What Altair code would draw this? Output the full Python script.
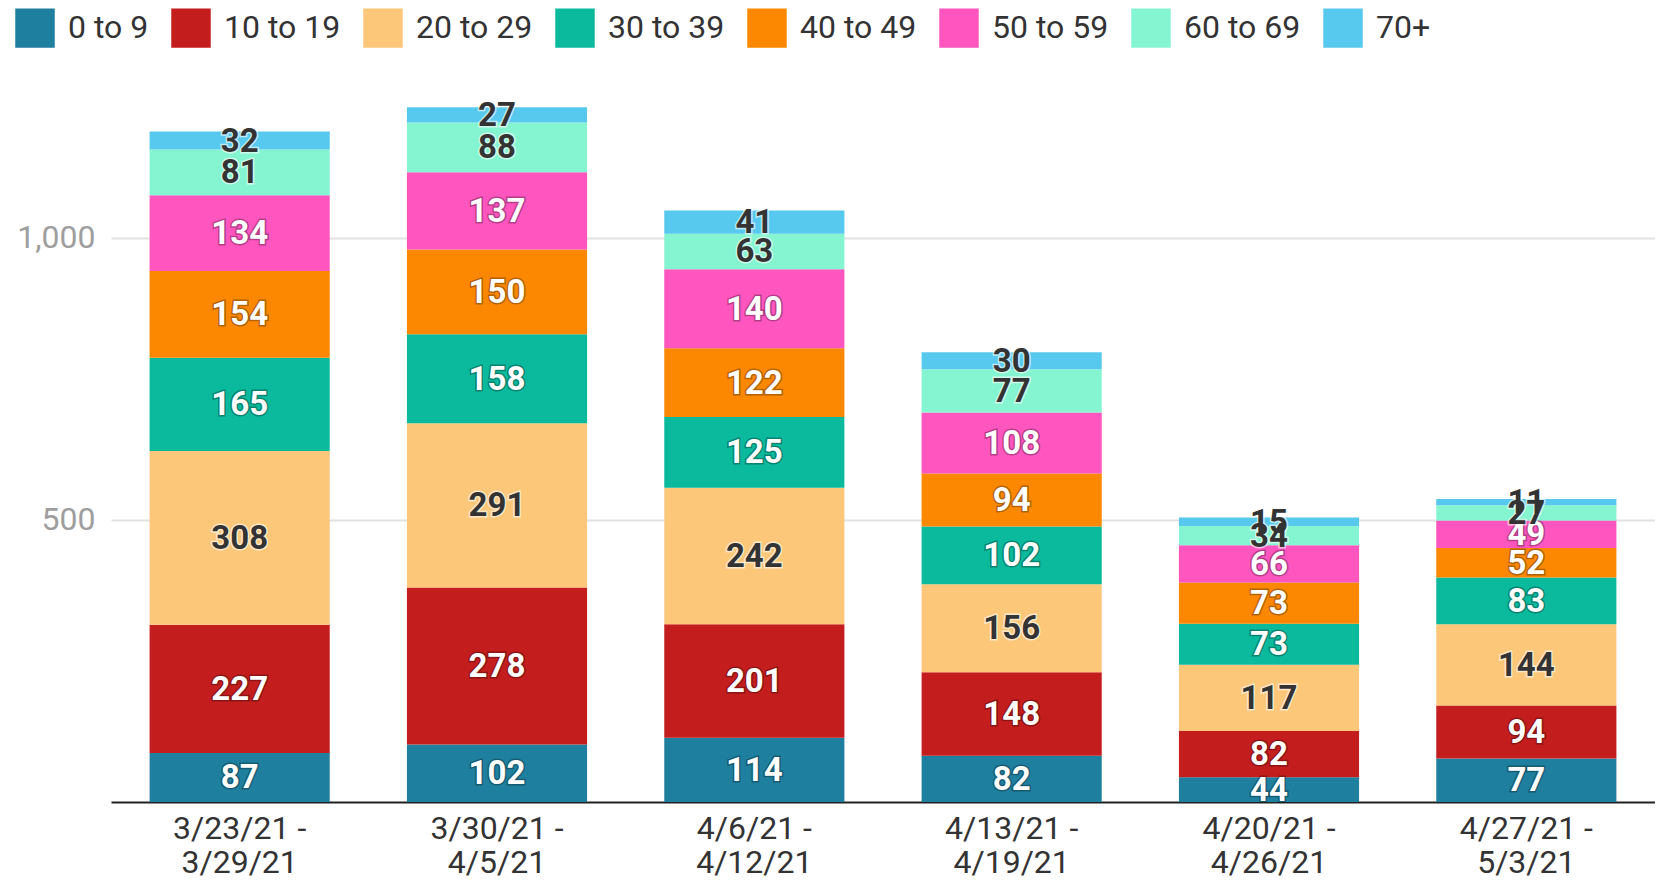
import altair as alt
import pandas as pd

weeks = ["3/23/21 - 3/29/21", "3/30/21 - 4/5/21", "4/6/21 - 4/12/21",
         "4/13/21 - 4/19/21", "4/20/21 - 4/26/21", "4/27/21 - 5/3/21"]
groups = ["0 to 9", "10 to 19", "20 to 29", "30 to 39", "40 to 49",
          "50 to 59", "60 to 69", "70+"]
colors = ["#1e7f9f", "#c41d1d", "#fdc77a", "#0bb99c", "#fb8800",
          "#ff55bf", "#84f5d0", "#58c9ee"]
light_groups = ["20 to 29", "60 to 69", "70+"]

age_0_9 = [87, 102, 114, 82, 44, 77]
age_10_19 = [227, 278, 201, 148, 82, 94]
age_20_29 = [308, 291, 242, 156, 117, 144]
age_30_39 = [165, 158, 125, 102, 73, 83]
age_40_49 = [154, 150, 122, 94, 73, 52]
age_50_59 = [134, 137, 140, 108, 66, 49]
age_60_69 = [81, 88, 63, 77, 34, 27]
age_70p = [32, 27, 41, 30, 15, 11]
series = [age_0_9, age_10_19, age_20_29, age_30_39, age_40_49,
          age_50_59, age_60_69, age_70p]

rows = []
for gi, (g, vals) in enumerate(zip(groups, series)):
    for w, v in zip(weeks, vals):
        rows.append({"week": w, "group": g, "order": gi, "value": v,
                     "light": g in light_groups})
df = pd.DataFrame(rows)

FONT = "Roboto"

base = alt.Chart(df).transform_stack(
    stack="value", as_=["y0", "y1"], groupby=["week"],
    sort=[alt.SortField("order", order="ascending")]
).transform_calculate(mid="(datum.y0 + datum.y1) / 2")

x_enc = alt.X(
    "week:N", sort=weeks, title=None,
    scale=alt.Scale(paddingInner=0.3, paddingOuter=0.15),
    axis=alt.Axis(
        labelExpr="[split(datum.label, ' - ')[0] + ' -', split(datum.label, ' - ')[1]]",
        labelFontSize=32, labelFont=FONT, labelColor="#333333",
        labelPadding=11, labelLineHeight=34, labelAngle=0,
        domainColor="#222222", domainWidth=2, ticks=False, grid=False,
    ),
)
y_scale = alt.Scale(domain=[0, 1290], nice=False)

bars = base.mark_bar().encode(
    x=x_enc,
    y=alt.Y("y0:Q", scale=y_scale, title=None,
            axis=alt.Axis(values=[500, 1000], format=",d", labelFontSize=32,
                          labelFont=FONT, labelColor="#9e9e9e",
                          labelPadding=16, domain=False, ticks=False,
                          gridColor="#e2e2e2", gridWidth=2)),
    y2="y1:Q",
    color=alt.Color("group:N", sort=groups,
                    scale=alt.Scale(domain=groups, range=colors),
                    legend=alt.Legend(
                        orient="none", legendX=-96, legendY=-66,
                        direction="horizontal", columns=8, title=None,
                        symbolType="square", symbolSize=1560,
                        symbolStrokeWidth=0, symbolOpacity=1,
                        labelFontSize=32, labelFont=FONT,
                        labelColor="#333333", labelOffset=13,
                        columnPadding=22)),
    order=alt.Order("order:Q"),
)

halo = base.mark_text(font=FONT, fontSize=33, fontWeight="bold",
                      baseline="middle", strokeWidth=3, dy=1).encode(
    x=alt.X("week:N", sort=weeks),
    y=alt.Y("mid:Q", scale=y_scale),
    text="value:Q",
    stroke=alt.condition("datum.light", alt.value("rgba(255,255,255,0.6)"),
                         alt.value("rgba(0,0,0,0.3)")),
    fill=alt.condition("datum.light", alt.value("rgba(255,255,255,0.6)"),
                       alt.value("rgba(0,0,0,0.3)")),
)

labels = base.mark_text(font=FONT, fontSize=33, fontWeight="bold",
                        baseline="middle", dy=1).encode(
    x=alt.X("week:N", sort=weeks),
    y=alt.Y("mid:Q", scale=y_scale),
    text="value:Q",
    color=alt.condition("datum.light", alt.value("#333333"),
                        alt.value("#ffffff")),
)

chart = alt.layer(bars, halo, labels).properties(
    width=1544, height=728,
    padding={"left": 7, "top": 0, "right": 0, "bottom": 4},
).configure_view(stroke=None)

chart.save("out.html", embed_options={"renderer": "svg", "actions": False})
